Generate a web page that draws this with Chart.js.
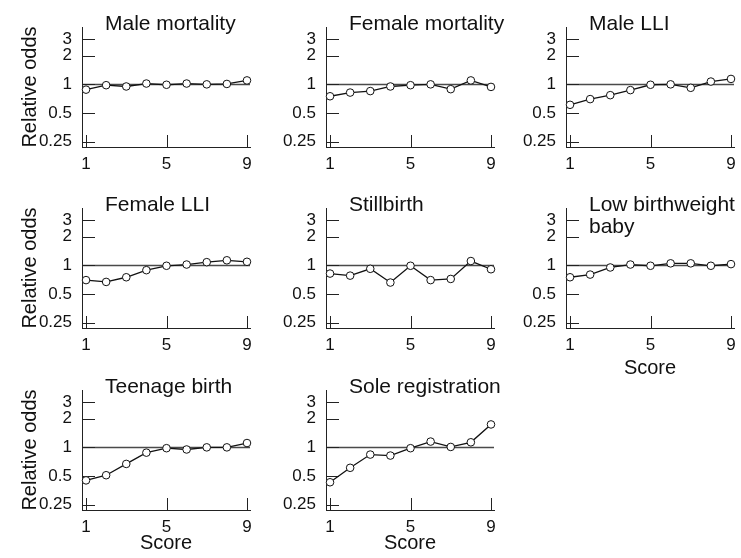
<!DOCTYPE html>
<html><head><meta charset="utf-8">
<script src="https://cdn.jsdelivr.net/npm/chart.js@4.4.1/dist/chart.umd.min.js"></script>
<style>
html,body{margin:0;padding:0;background:#fff;width:741px;height:558px;overflow:hidden;position:relative}
canvas{position:absolute}
</style></head><body>
<script>
const scores = [1, 2, 3, 4, 5, 6, 7, 8, 9];
const xTickValues = [1, 5, 9];
const yTickValues = [0.25, 0.5, 1, 2, 3];

const maleMortality     = [0.88, 0.98, 0.95, 1.02, 0.99, 1.02, 1.00, 1.01, 1.10];
const femaleMortality   = [0.75, 0.82, 0.85, 0.95, 0.98, 1.00, 0.89, 1.10, 0.94];
const maleLLI           = [0.61, 0.70, 0.77, 0.87, 0.99, 1.00, 0.92, 1.07, 1.14];
const femaleLLI         = [0.70, 0.67, 0.75, 0.89, 0.99, 1.02, 1.08, 1.13, 1.09];
const stillbirth        = [0.82, 0.78, 0.92, 0.66, 0.99, 0.70, 0.72, 1.11, 0.91];
const lowBirthweight    = [0.75, 0.80, 0.95, 1.02, 0.99, 1.05, 1.05, 0.99, 1.03];
const teenageBirth      = [0.45, 0.51, 0.67, 0.88, 0.98, 0.95, 1.00, 1.00, 1.11];
const soleRegistration  = [0.43, 0.61, 0.84, 0.82, 0.98, 1.15, 1.01, 1.13, 1.74];

const panelTitles = [
  ['Male mortality'], ['Female mortality'], ['Male LLI'],
  ['Female LLI'], ['Stillbirth'], ['Low birthweight', 'baby'],
  ['Teenage birth'], ['Sole registration']
];
const panelSeries = [maleMortality, femaleMortality, maleLLI, femaleLLI, stillbirth, lowBirthweight, teenageBirth, soleRegistration];
const yAxisTitle = 'Relative odds';
const xAxisTitle = 'Score';

const FONT = '"Liberation Sans", Arial, Helvetica, sans-serif';
const colLeft = [0, 244, 484];
const rowTop = [0, 181, 363];
const CW = 280, CH = 207;
const scoreShown = [false, false, false, false, false, true, true, true];
const scorePad = [0, 0, 0, 0, 0, 7.5, 15, 15];

const decor = {
  id: 'decor',
  beforeDatasetsDraw(chart, args, opts) {
    const {ctx, chartArea: a, scales: {x, y}} = chart;
    const ln = (x1, y1, x2, y2) => { ctx.beginPath(); ctx.moveTo(x1, y1); ctx.lineTo(x2, y2); ctx.stroke(); };
    ctx.save();
    ctx.strokeStyle = '#4a4a4a'; ctx.lineWidth = 1.3;
    const p1 = Math.round(y.getPixelForValue(1)) + 0.5;
    ln(a.left, p1, a.right, p1);
    ctx.strokeStyle = '#222'; ctx.lineWidth = 1;
    yTickValues.forEach(v => { const py = Math.round(y.getPixelForValue(v)) + 0.5; ln(a.left, py, a.left + 13, py); });
    xTickValues.forEach(v => { const px = Math.round(x.getPixelForValue(v)) + 0.5; ln(px, a.bottom, px, a.bottom - 12); });
    ctx.fillStyle = '#111';
    ctx.font = '21px ' + FONT;
    ctx.textAlign = 'left'; ctx.textBaseline = 'alphabetic';
    opts.lines.forEach((t, i) => ctx.fillText(t, a.left + 23, a.top + 2.5 + i * 22));
    ctx.restore();
  }
};

panelSeries.forEach((vals, i) => {
  const col = i % 3, row = Math.floor(i / 3);
  const cv = document.createElement('canvas');
  cv.width = CW; cv.height = CH;
  cv.style.left = colLeft[col] + 'px'; cv.style.top = rowTop[row] + 'px';
  cv.style.width = CW + 'px'; cv.style.height = CH + 'px';
  document.body.appendChild(cv);
  new Chart(cv, {
    type: 'line',
    data: {
      datasets: [{
        data: scores.map((s, k) => ({x: s, y: vals[k]})),
        borderColor: '#111', borderWidth: 1.3, tension: 0,
        pointRadius: 3.8, pointBackgroundColor: '#fff', pointBorderColor: '#111', pointBorderWidth: 1,
        clip: 8
      }]
    },
    options: {
      responsive: false, animation: false, devicePixelRatio: 1,
      layout: {padding: {top: 27, right: CW - 250, left: 0, bottom: 0}},
      plugins: {legend: {display: false}, tooltip: {enabled: false}, decor: {lines: panelTitles[i]}},
      scales: {
        x: {
          type: 'linear', min: 0.8, max: 9.15,
          afterBuildTicks: s => { s.ticks = xTickValues.map(v => ({value: v})); },
          afterFit: s => { s.height = 60; },
          grid: {display: false, drawTicks: false},
          border: {display: true, color: '#222', width: 1},
          ticks: {padding: 6.8, color: '#111', font: {family: FONT, size: 17}, autoSkip: false, maxRotation: 0, callback: v => String(v)},
          title: {display: scoreShown[i], text: xAxisTitle, color: '#111', font: {family: FONT, size: 20}, padding: {top: 0, bottom: scorePad[i]}}
        },
        y: {
          type: 'logarithmic', min: 0.22, max: 4,
          afterBuildTicks: s => { s.ticks = yTickValues.map(v => ({value: v})); },
          afterFit: s => { s.width = 82; },
          grid: {display: false, drawTicks: false},
          border: {display: true, color: '#222', width: 1},
          ticks: {padding: 10, color: '#111', font: {family: FONT, size: 17}, autoSkip: false, callback: v => String(v)},
          title: {display: col === 0, text: yAxisTitle, color: '#111', font: {family: FONT, size: 20}, padding: {top: 18.5, bottom: 0}}
        }
      }
    },
    plugins: [decor]
  });
});
</script>
</body></html>
